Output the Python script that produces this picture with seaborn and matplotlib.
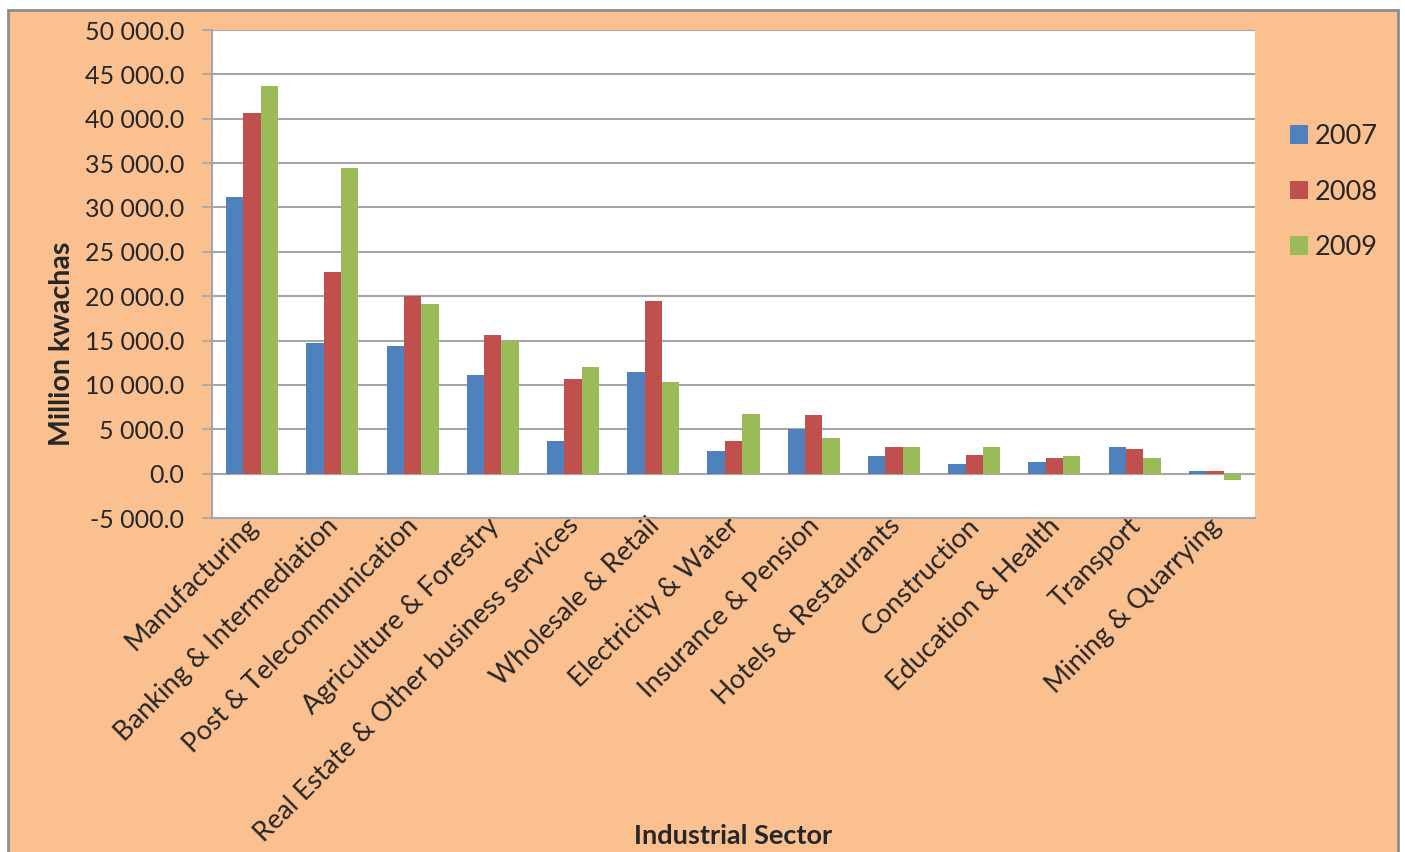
import pandas as pd
import matplotlib.pyplot as plt
import matplotlib.patches as mpatches
import matplotlib.transforms as mtransforms
import seaborn as sns

# Datos (millones de kwachas)
sectors = ["Manufacturing", "Banking & Intermediation", "Post & Telecommunication",
           "Agriculture & Forestry", "Real Estate & Other business services",
           "Wholesale & Retail", "Electricity & Water", "Insurance & Pension",
           "Hotels & Restaurants", "Construction", "Education & Health",
           "Transport", "Mining & Quarrying"]
v2007 = [31200, 14750, 14400, 11100, 3700, 11500, 2500, 5000, 2000, 1100, 1300, 3000, 260]
v2008 = [40600, 22700, 20050, 15600, 10650, 19500, 3700, 6600, 3000, 2100, 1800, 2800, 260]
v2009 = [43700, 34500, 19150, 15000, 12000, 10300, 6700, 4000, 3000, 3000, 2000, 1800, -750]
years = ["2007", "2008", "2009"]
yticks = list(range(-5000, 50001, 5000))

df = pd.DataFrame({
    "Sector": sectors * 3,
    "Year": [years[0]] * 13 + [years[1]] * 13 + [years[2]] * 13,
    "Value": v2007 + v2008 + v2009,
})

sns.set_style("white")
plt.rcParams["font.family"] = ["Lato", "DejaVu Sans"]

bg = "#FAC090"
grid_col = "#A6A6A6"

fig = plt.figure(figsize=(14.05, 8.52), dpi=100)
fig.patch.set_facecolor("white")
# fondo naranja con borde gris
fig.patches.append(mpatches.Rectangle((8 / 1405, -0.01), 1390 / 1405, 1 - 10 / 852 + 0.01,
                                      transform=fig.transFigure, facecolor=bg,
                                      edgecolor="#8C8C8C", linewidth=2, zorder=-10))

ax = fig.add_axes([212 / 1405, 1 - 518 / 852, (1255 - 212) / 1405, (518 - 30) / 852])
ax.set_facecolor("white")

palette = ["#4F81BD", "#C0504D", "#9BBB59"]
sns.barplot(data=df, x="Sector", y="Value", hue="Year", palette=palette,
            width=0.65, linewidth=0, saturation=1, ax=ax)

ax.set_ylim(-5000, 50000)
ax.set_yticks(yticks)
ax.set_yticklabels([f"{v:,.1f}".replace(",", " ") for v in yticks], fontsize=18)
ax.yaxis.grid(True, color=grid_col, linewidth=1.5)
ax.set_axisbelow(True)
ax.tick_params(axis="y", direction="out", length=7, width=1.2, color=grid_col, pad=13, left=True)
ax.tick_params(axis="x", length=0, pad=0)

ax.set_xticks(range(len(sectors)))
ax.set_xticklabels(sectors, rotation=45, ha="right", va="center", rotation_mode="anchor",
                   fontsize=19.5)
shift = mtransforms.ScaledTranslation(0.02, -0.04, fig.dpi_scale_trans)
for lbl in ax.get_xticklabels():
    lbl.set_transform(lbl.get_transform() + shift)

for side in ["top", "right"]:
    ax.spines[side].set_visible(False)
for side in ["left", "bottom"]:
    ax.spines[side].set_color(grid_col)
    ax.spines[side].set_linewidth(1.5)

ax.set_xlabel("")
ax.set_ylabel("")
fig.text(62 / 1405, 1 - 344 / 852, "Million kwachas", fontsize=20.5, fontweight="bold",
         rotation=90, ha="center", va="center")
fig.text(733 / 1405, 1 - 836 / 852, "Industrial Sector", fontsize=19.5, fontweight="bold",
         ha="center", va="center")

leg = ax.legend(loc="center left", bbox_to_anchor=(1290 / 1405, 1 - 192 / 852),
                bbox_transform=fig.transFigure, frameon=False, borderpad=0, borderaxespad=0,
                fontsize=19.5, handlelength=0.67, handleheight=0.67, handletextpad=0.25,
                labelspacing=1.12, title=None)

plt.savefig("out.png", dpi=100, facecolor=fig.get_facecolor())
